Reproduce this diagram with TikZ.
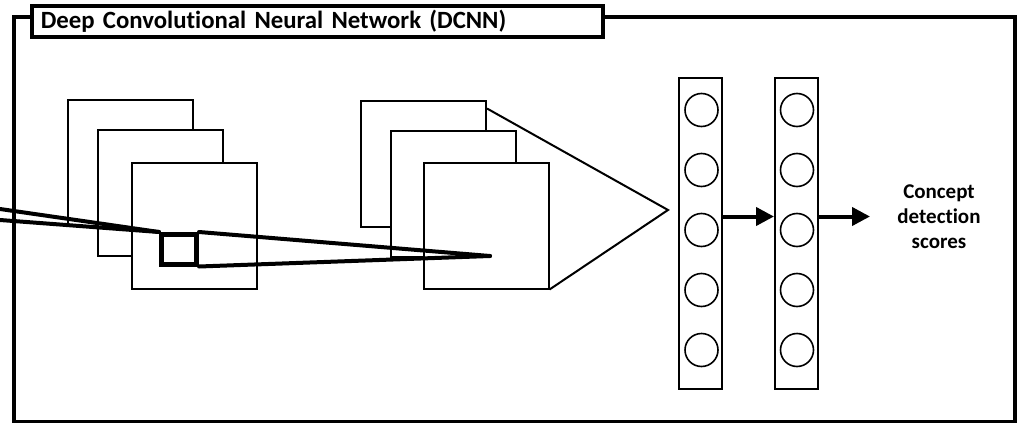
\documentclass[tikz,border=0pt]{standalone}
\usepackage{fontspec}
\setmainfont{Carlito}[RawFeature=-liga]
\usetikzlibrary{arrows.meta}

\begin{document}
\begin{tikzpicture}[x=1pt,y=-1pt]
\tikzstyle{every node}=[font=\bfseries]
\tikzstyle{fmap}=[draw,line width=2pt,fill=white,minimum width=125pt,minimum height=126pt,inner sep=0pt]
\tikzstyle{fc}=[draw,line width=2pt,minimum width=43pt,minimum height=311pt,inner sep=0pt]
\tikzstyle{unit}=[draw,circle,line width=1.6pt,minimum size=33pt,inner sep=0pt]
\tikzstyle{field}=[line width=4pt,line cap=round]
\tikzstyle{flow}=[line width=4pt,-{Triangle[length=18pt,width=18pt]}]

\useasboundingbox (0,0) rectangle (1018,423);
\draw[line width=4pt] (14,17) rectangle (1015,422);
\node[draw,fill=white,line width=3.5pt,anchor=north west,text width=553pt,inner xsep=9pt,minimum height=31pt,align=left,font=\fontsize{24.8}{28}\selectfont\bfseries] (title) at (30,4) {Deep Convolutional Neural Network (DCNN)};

\node[fmap] (L1) at (130.5,162.5) {};
\node[fmap] (L2) at (160.5,193) {};
\node[fmap] (L3) at (194,225.5) {};
\node[fmap] (R1) at (423.5,163.5) {};
\node[fmap] (R2) at (453.5,193.5) {};
\node[fmap] (R3) at (486,225.5) {};

\node[draw,line width=5pt,minimum width=35pt,minimum height=29.5pt,inner sep=0pt] (patch) at (179,249.25) {};
\coordinate (src1) at (0,209);
\coordinate (src2) at (0,220);
\coordinate (focus) at (490,256);
\draw[field] (src1) -- (patch.north west);
\draw[field] (src2) -- (patch.north west);
\draw[field] (patch.north east) -- (focus);
\draw[field] (patch.south east) -- (focus);

\coordinate (cone) at (668,210);
\draw[line width=2pt] ([yshift=-9pt]R1.north east) -- (cone) -- (R3.south east);

\node[fc] (fc1) at (700.5,233.5) {};
\node[fc] (fc2) at (796.5,233.5) {};
\foreach \i/\y in {1/110,2/170,3/230,4/290,5/350}{
  \node[unit] (a\i) at (701.5,\y) {};
  \node[unit] (b\i) at (797,\y) {};
}

\draw[flow] ([yshift=17pt]fc1.east) -- ([yshift=17pt]fc2.west);
\coordinate (out) at (870,216.5);
\draw[flow] ([yshift=17pt]fc2.east) -- (out);
\node[align=center,font=\fontsize{21}{25}\selectfont\bfseries] (scores) at (939,217) {Concept\\detection\\scores};

\end{tikzpicture}
\end{document}
